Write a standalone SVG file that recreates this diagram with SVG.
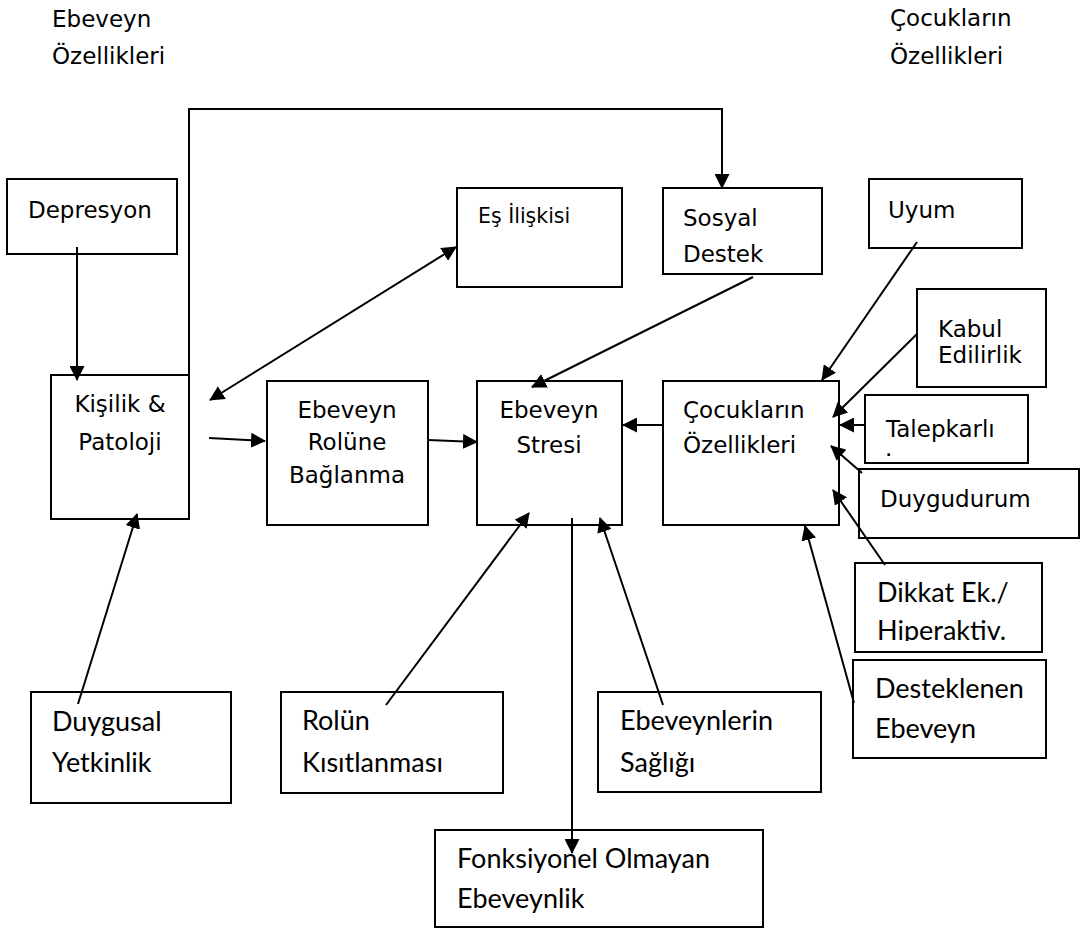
<svg xmlns="http://www.w3.org/2000/svg" width="1087" height="929" viewBox="0 0 1087 929">
<style>
.box{fill:#fff;stroke:#000;stroke-width:2}
.t{font-family:"DejaVu Sans",Verdana,sans-serif;font-size:23px;fill:#000}
.ts{font-family:"DejaVu Sans",Verdana,sans-serif;font-size:20.5px;fill:#000}
.dot{font-family:"DejaVu Sans",Verdana,sans-serif;font-size:14px;font-weight:bold;fill:#000}
.c{font-family:Lato,"Liberation Sans",sans-serif;font-size:27px;fill:#000}
.mid{text-anchor:middle}
.ln{fill:none;stroke:#000;stroke-width:2}
</style>
<defs>
<marker id="ah" markerUnits="userSpaceOnUse" markerWidth="15" markerHeight="15" refX="14" refY="7.5" orient="auto-start-reverse" viewBox="0 0 15 15">
<path d="M0,0 L15,7.5 L0,15 z" fill="#000"/>
</marker>
<clipPath id="clipDikkat"><rect x="855" y="563" width="187" height="78"/></clipPath>
</defs>

<g id="header-ebeveyn">
<text class="t" x="52" y="27">Ebeveyn</text>
<text class="t" x="52" y="64">Özellikleri</text>
</g>
<g id="header-cocuk">
<text class="t" x="890" y="26">Çocukların</text>
<text class="t" x="890" y="64">Özellikleri</text>
</g>

<g id="depresyon">
<rect class="box" x="7" y="179" width="170" height="75"/>
<text class="t" x="28" y="218">Depresyon</text>
</g>
<g id="kisilik">
<rect class="box" x="51" y="375" width="138" height="144"/>
<text class="t mid" x="120" y="412">Kişilik &amp;</text>
<text class="t mid" x="120" y="450">Patoloji</text>
</g>
<g id="es-iliskisi">
<rect class="box" x="457" y="188" width="165" height="99"/>
<text class="ts" x="478" y="223">Eş İlişkisi</text>
</g>
<g id="sosyal-destek">
<rect class="box" x="663" y="188" width="159" height="86"/>
<text class="t" x="683" y="226">Sosyal</text>
<text class="t" x="683" y="262">Destek</text>
</g>
<g id="uyum">
<rect class="box" x="869" y="179" width="153" height="69"/>
<text class="t" x="888" y="218">Uyum</text>
</g>
<g id="rolune-baglanma">
<rect class="box" x="267" y="381" width="161" height="144"/>
<text class="t mid" x="347" y="418">Ebeveyn</text>
<text class="t mid" x="347" y="450">Rolüne</text>
<text class="t mid" x="347" y="483">Bağlanma</text>
</g>
<g id="ebeveyn-stresi">
<rect class="box" x="477" y="381" width="145" height="144"/>
<text class="t mid" x="549" y="418">Ebeveyn</text>
<text class="t mid" x="549" y="453">Stresi</text>
</g>
<g id="cocuklarin-ozellikleri">
<rect class="box" x="663" y="381" width="176" height="144"/>
<text class="t" x="683" y="418">Çocukların</text>
<text class="t" x="683" y="453">Özellikleri</text>
</g>
<g id="kabul">
<rect class="box" x="917" y="289" width="129" height="98"/>
<text class="t" x="938" y="337">Kabul</text>
<text class="t" x="938" y="363">Edilirlik</text>
</g>
<g id="talepkarli">
<rect class="box" x="865" y="395" width="163" height="68"/>
<text class="t" x="886" y="437">Talepkarlı</text>
<text class="dot" x="886" y="456">.</text>
</g>
<g id="duygudurum">
<rect class="box" x="859" y="469" width="220" height="69"/>
<text class="t" x="880" y="507">Duygudurum</text>
</g>
<g id="dikkat">
<rect class="box" x="855" y="563" width="187" height="89"/>
<g clip-path="url(#clipDikkat)">
<text class="c" x="877" y="602">Dikkat Ek./</text>
<text class="c" x="877" y="640">Hiperaktiv.</text>
</g>
</g>
<g id="desteklenen">
<rect class="box" x="853" y="660" width="193" height="98"/>
<text class="c" x="875" y="698">Desteklenen</text>
<text class="c" x="875" y="738">Ebeveyn</text>
</g>
<g id="duygusal">
<rect class="box" x="31" y="692" width="200" height="111"/>
<text class="c" x="52" y="731">Duygusal</text>
<text class="c" x="52" y="772">Yetkinlik</text>
</g>
<g id="rolun">
<rect class="box" x="281" y="692" width="222" height="101"/>
<text class="c" x="302" y="730">Rolün</text>
<text class="c" x="302" y="772">Kısıtlanması</text>
</g>
<g id="ebeveynlerin">
<rect class="box" x="598" y="692" width="223" height="100"/>
<text class="c" x="620" y="730">Ebeveynlerin</text>
<text class="c" x="620" y="772">Sağlığı</text>
</g>
<g id="fonksiyonel">
<rect class="box" x="435" y="830" width="328" height="97"/>
<text class="c" x="457" y="868">Fonksiyonel Olmayan</text>
<text class="c" x="457" y="908">Ebeveynlik</text>
</g>

<g id="connectors">
<line class="ln" x1="77" y1="247" x2="77" y2="380" marker-end="url(#ah)"/>
<polyline class="ln" points="189,390 189,109 722,109 722,188" marker-end="url(#ah)"/>
<line class="ln" x1="210" y1="400" x2="456" y2="247" marker-start="url(#ah)" marker-end="url(#ah)"/>
<line class="ln" x1="209" y1="438" x2="265" y2="441" marker-end="url(#ah)"/>
<line class="ln" x1="428" y1="440" x2="477" y2="442" marker-end="url(#ah)"/>
<line class="ln" x1="753" y1="277" x2="532" y2="387" marker-end="url(#ah)"/>
<line class="ln" x1="663" y1="425" x2="623" y2="425" marker-end="url(#ah)"/>
<line class="ln" x1="917" y1="242" x2="822" y2="380" marker-end="url(#ah)"/>
<line class="ln" x1="917" y1="334" x2="833" y2="417" marker-end="url(#ah)"/>
<line class="ln" x1="865" y1="425" x2="840" y2="425" marker-end="url(#ah)"/>
<line class="ln" x1="862" y1="473" x2="831" y2="446" marker-end="url(#ah)"/>
<line class="ln" x1="885" y1="565" x2="833" y2="490" marker-end="url(#ah)"/>
<line class="ln" x1="854" y1="703" x2="805" y2="526" marker-end="url(#ah)"/>
<line class="ln" x1="78" y1="704" x2="137" y2="514" marker-end="url(#ah)"/>
<line class="ln" x1="386" y1="705" x2="529" y2="513" marker-end="url(#ah)"/>
<line class="ln" x1="663" y1="705" x2="600" y2="518" marker-end="url(#ah)"/>
<line class="ln" x1="572" y1="518" x2="572" y2="853" marker-end="url(#ah)"/>
</g>
</svg>
